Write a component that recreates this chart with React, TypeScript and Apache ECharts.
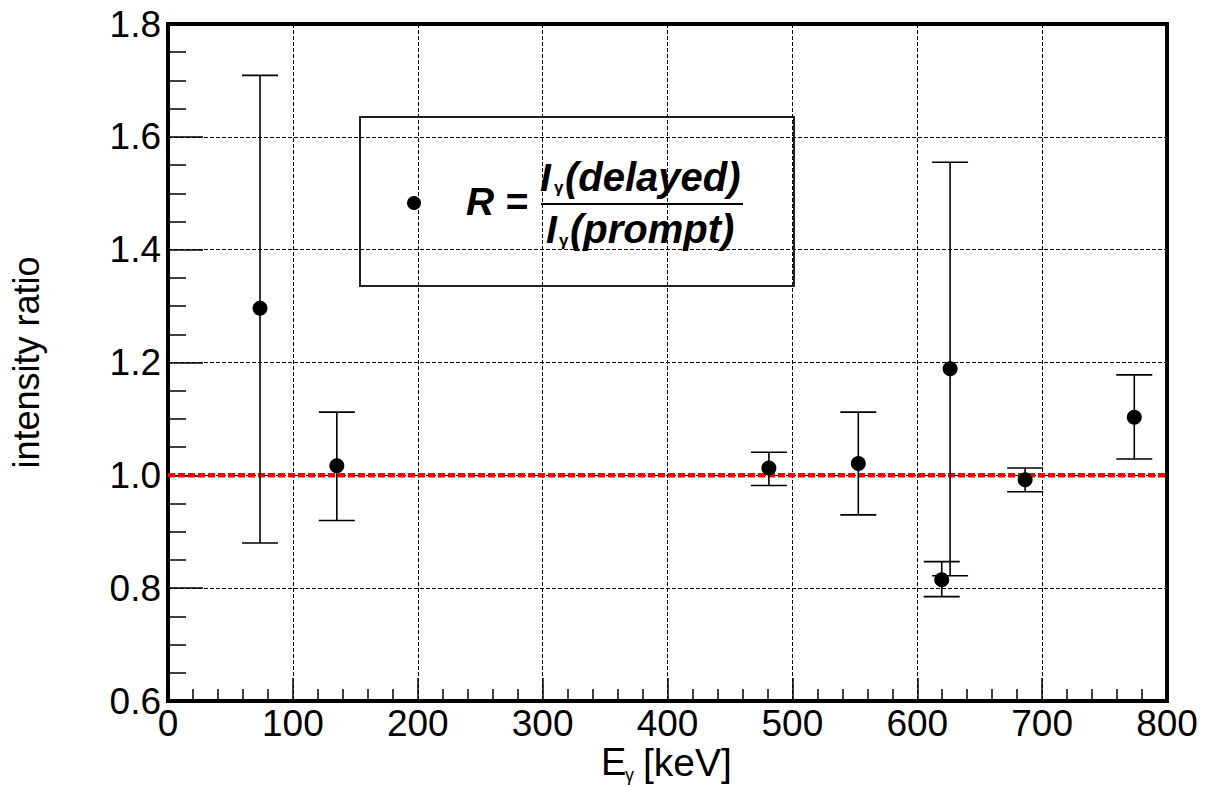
import React, { useEffect, useRef } from "react";
import * as echarts from "echarts";

// Energies (keV) of the gamma lines
const energies = [73.7, 135.2, 481.2, 552.8, 619.6, 626.3, 686.4, 773.8];
// intensity ratio R = I(delayed) / I(prompt)
const ratios = [1.296, 1.017, 1.013, 1.021, 0.815, 1.189, 0.992, 1.103];
// error bar lower and upper ends
const errLow = [0.88, 0.92, 0.982, 0.93, 0.785, 0.822, 0.971, 1.029];
const errHigh = [1.709, 1.112, 1.041, 1.112, 0.847, 1.555, 1.013, 1.178];
// reference line
const refLine = [
  [0, 1.0],
  [800, 1.0],
];
const xTicks = { min: 0, max: 800, interval: 100 };
const yTicks = { min: 0.6, max: 1.8, interval: 0.2 };

const FONT = "'Liberation Sans', Arial, Helvetica, sans-serif";

export default function App() {
  const ref = useRef<HTMLDivElement>(null);
  useEffect(() => {
    if (!ref.current) return;
    const chart = echarts.init(ref.current, null, { renderer: "svg" });
    const points = energies.map((e, i) => [e, ratios[i]]);
    const bars = energies.map((e, i) => [e, errLow[i], errHigh[i]]);
    const bi = { fontWeight: "bold", fontStyle: "italic", fontFamily: FONT, fill: "#000", align: "left", verticalAlign: "middle" };
    const option: any = {
      animation: false,
      backgroundColor: "#fff",
      grid: {
        left: 168,
        right: 38,
        top: 24,
        bottom: 85,
        show: true,
        borderColor: "#000",
        borderWidth: 4,
        backgroundColor: "transparent",
      },
      xAxis: {
        type: "value",
        min: xTicks.min,
        max: xTicks.max,
        interval: xTicks.interval,
        axisLine: { show: true, lineStyle: { color: "#000", width: 4 } },
        axisTick: { show: true, inside: true, length: 23, lineStyle: { color: "#000", width: 1.5 } },
        minorTick: { show: true, splitNumber: 5, length: 12, lineStyle: { color: "#000", width: 1.5 } },
        splitLine: { show: true, lineStyle: { color: "#000", width: 1, type: [4, 2] } },
        axisLabel: {
          show: true,
          margin: 5,
          fontSize: 37,
          lineHeight: 34,
          color: "#000",
          fontFamily: FONT,
          showMinLabel: true,
          showMaxLabel: true,
        },
      },
      yAxis: {
        type: "value",
        min: yTicks.min,
        max: yTicks.max,
        interval: yTicks.interval,
        name: "intensity ratio",
        nameLocation: "middle",
        nameRotate: 90,
        nameGap: 124,
        nameTextStyle: { fontSize: 36, color: "#000", fontFamily: FONT },
        axisLine: { show: true, lineStyle: { color: "#000", width: 4 } },
        axisTick: { show: true, inside: true, length: 35, lineStyle: { color: "#000", width: 1.5 } },
        minorTick: { show: true, splitNumber: 4, length: 18, lineStyle: { color: "#000", width: 1.5 } },
        splitLine: { show: true, lineStyle: { color: "#000", width: 1, type: [4, 2] } },
        axisLabel: {
          show: true,
          margin: 7,
          fontSize: 37,
          color: "#000",
          fontFamily: FONT,
          showMinLabel: true,
          showMaxLabel: true,
          formatter: (v: number) => v.toFixed(1),
        },
      },
      series: [
        {
          type: "line",
          data: refLine,
          symbol: "none",
          silent: true,
          z: 2,
          lineStyle: { color: "#ff0000", width: 4.5, type: [7, 3], opacity: 1 },
        },
        {
          type: "custom",
          data: bars,
          z: 3,
          encode: { x: 0, y: [1, 2] },
          renderItem: (params: any, api: any) => {
            const x = api.value(0);
            const lo = api.coord([x, api.value(1)]);
            const hi = api.coord([x, api.value(2)]);
            const hw = 18;
            const st = { stroke: "#000", lineWidth: 1.6 };
            return {
              type: "group",
              children: [
                { type: "line", shape: { x1: lo[0], y1: lo[1], x2: hi[0], y2: hi[1] }, style: st },
                { type: "line", shape: { x1: lo[0] - hw, y1: lo[1], x2: lo[0] + hw, y2: lo[1] }, style: st },
                { type: "line", shape: { x1: hi[0] - hw, y1: hi[1], x2: hi[0] + hw, y2: hi[1] }, style: st },
              ],
            };
          },
        },
        {
          type: "scatter",
          data: points,
          symbol: "circle",
          symbolSize: 15,
          z: 4,
          itemStyle: { color: "#000", opacity: 1 },
        },
      ],
      graphic: [
        {
          type: "group",
          z: 100,
          children: [
            {
              type: "rect",
              shape: { x: 360, y: 117, width: 434, height: 169 },
              style: { fill: "#fff", stroke: "#222", lineWidth: 2 },
            },
            { type: "circle", shape: { cx: 414, cy: 203, r: 7 }, style: { fill: "#000" } },
            { type: "text", x: 466, y: 201, style: { ...bi, text: "R =", fontSize: 39 } },
            { type: "text", x: 540, y: 177, style: { ...bi, text: "I", fontSize: 39 } },
            {
              type: "text",
              x: 554,
              y: 187,
              style: { text: "γ", fontSize: 17, fontWeight: "bold", fontFamily: FONT, fill: "#000", align: "left", verticalAlign: "middle" },
            },
            { type: "text", x: 565, y: 177, style: { ...bi, text: "(delayed)", fontSize: 40 } },
            {
              type: "line",
              shape: { x1: 541, y1: 204, x2: 743, y2: 204 },
              style: { stroke: "#000", lineWidth: 2 },
            },
            { type: "text", x: 546, y: 229, style: { ...bi, text: "I", fontSize: 39 } },
            {
              type: "text",
              x: 559,
              y: 240,
              style: { text: "γ", fontSize: 17, fontWeight: "bold", fontFamily: FONT, fill: "#000", align: "left", verticalAlign: "middle" },
            },
            { type: "text", x: 570, y: 229, style: { ...bi, text: "(prompt)", fontSize: 40 } },
          ],
        },
        {
          type: "group",
          z: 100,
          children: [
            {
              type: "text",
              x: 601,
              y: 762,
              style: { text: "E", fontSize: 38, lineHeight: 30, fontFamily: FONT, fill: "#000", align: "left", verticalAlign: "middle" },
            },
            {
              type: "text",
              x: 625,
              y: 775,
              style: { text: "γ", fontSize: 18, lineHeight: 16, fontFamily: FONT, fill: "#000", align: "left", verticalAlign: "middle" },
            },
            {
              type: "text",
              x: 643,
              y: 762,
              style: { text: "[keV]", fontSize: 39, lineHeight: 30, fontFamily: FONT, fill: "#000", align: "left", verticalAlign: "middle" },
            },
          ],
        },
      ],
    };
    chart.setOption(option);
    return () => chart.dispose();
  }, []);
  return (
    <div
      ref={ref}
      style={{ position: "fixed", left: 0, top: 0, width: 1205, height: 786, background: "#fff" }}
    />
  );
}
